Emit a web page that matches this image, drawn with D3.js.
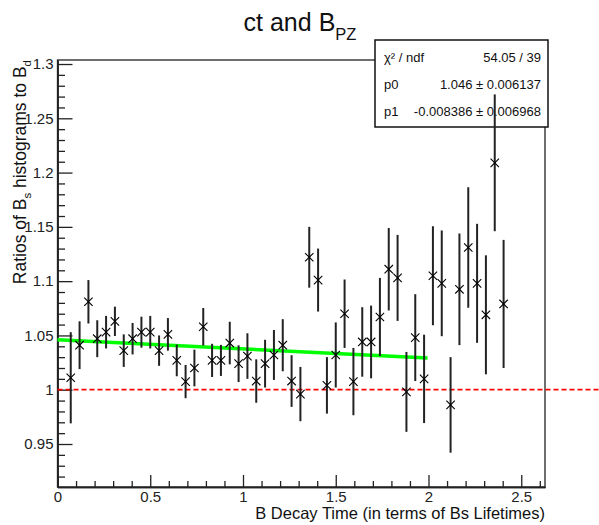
<!DOCTYPE html>
<html><head><meta charset="utf-8">
<script src="https://cdn.jsdelivr.net/npm/d3@7/dist/d3.min.js"></script>
<style>body{margin:0;background:#fff;} svg{display:block;font-family:"Liberation Sans",Arial,sans-serif;}</style>
</head><body>
<script>
// ---- data ----
const xValues = [0.0714,0.1190,0.1667,0.2143,0.2619,0.3095,0.3571,0.4048,0.4524,0.5000,
  0.5476,0.5952,0.6429,0.6905,0.7381,0.7857,0.8333,0.8810,0.9286,0.9762,
  1.0238,1.0714,1.1190,1.1667,1.2143,1.2619,1.3095,1.3571,1.4048,1.4524,
  1.5000,1.5476,1.5952,1.6429,1.6905,1.7381,1.7857,1.8333,1.8810,1.9286,
  1.9762,2.0238,2.0714,2.1190,2.1667,2.2143,2.2619,2.3095,2.3571,2.4048];
const ratios = [1.011,1.041,1.081,1.047,1.053,1.063,1.036,1.047,1.053,1.053,
  1.036,1.051,1.027,1.0075,1.020,1.058,1.027,1.027,1.043,1.024,
  1.031,1.008,1.024,1.032,1.041,1.008,0.996,1.122,1.101,1.004,
  1.032,1.070,1.0075,1.044,1.044,1.067,1.111,1.103,0.998,1.048,
  1.010,1.105,1.098,0.986,1.0925,1.131,1.098,1.069,1.209,1.079];
const errors = [0.042,0.022,0.020,0.017,0.015,0.0135,0.015,0.0145,0.0143,0.015,
  0.014,0.015,0.0146,0.0153,0.0169,0.0173,0.0153,0.0143,0.0196,0.0169,
  0.021,0.020,0.022,0.023,0.024,0.0238,0.025,0.028,0.029,0.026,
  0.030,0.0315,0.031,0.032,0.0335,0.036,0.038,0.0396,0.0368,0.040,
  0.0407,0.0456,0.0487,0.044,0.0514,0.0555,0.0548,0.0548,0.063,0.059];
const fitParams = {p0: 1.046, p1: -0.008386};
const fitRange = [0, 1.995];
const referenceLevel = 1.0;
const xMajorTicks = [0, 0.5, 1, 1.5, 2, 2.5];
const xMinorTicks = [0.1,0.2,0.3,0.4,0.6,0.7,0.8,0.9,1.1,1.2,1.3,1.4,1.6,1.7,1.8,1.9,2.1,2.2,2.3,2.4,2.6];
const yMajorTicks = [0.95, 1, 1.05, 1.1, 1.15, 1.2, 1.25, 1.3];
const yMinorTicks = [0.92,0.93,0.94,0.96,0.97,0.98,0.99,1.01,1.02,1.03,1.04,1.06,1.07,1.08,1.09,
  1.11,1.12,1.13,1.14,1.16,1.17,1.18,1.19,1.21,1.22,1.23,1.24,1.26,1.27,1.28,1.29];
const statsRows = [["χ² / ndf", "54.05 / 39"], ["p0", "1.046 ± 0.006137"], ["p1", "-0.008386 ± 0.006968"]];

// ---- layout ----
const W = 599, H = 525;
const M = {left: 57.5, right: 545, top: 60, bottom: 487};
const svg = d3.select("body").append("svg").attr("width", W).attr("height", H);

const x = d3.scaleLinear().domain([0, 2.628]).range([M.left, M.right]);
const y = d3.scaleLinear().domain([0.9104, 1.3037]).range([M.bottom, M.top]);

// frame
svg.append("rect").attr("x", M.left).attr("y", M.top)
  .attr("width", M.right - M.left).attr("height", M.bottom - M.top)
  .attr("fill", "none").attr("stroke", "#222").attr("stroke-width", 1.3);

// axes
const yAxis = d3.axisLeft(y).tickValues(yMajorTicks).tickSizeInner(-15).tickSizeOuter(0).tickPadding(4)
  .tickFormat(d => d3.format("")(d));
const gy = svg.append("g").attr("transform", `translate(${M.left},0)`).call(yAxis);
const yMinor = d3.axisLeft(y).tickValues(yMinorTicks).tickSizeInner(-7.5).tickSizeOuter(0).tickFormat("");
const gym = svg.append("g").attr("transform", `translate(${M.left},0)`).call(yMinor);

const xAxis = d3.axisBottom(x).tickValues(xMajorTicks).tickSizeInner(-12).tickSizeOuter(0).tickPadding(4)
  .tickFormat(d => d3.format("")(d));
const gx = svg.append("g").attr("transform", `translate(0,${M.bottom})`).call(xAxis);
const xMinor = d3.axisBottom(x).tickValues(xMinorTicks).tickSizeInner(-6).tickSizeOuter(0).tickFormat("");
const gxm = svg.append("g").attr("transform", `translate(0,${M.bottom})`).call(xMinor);

[gy, gym, gx, gxm].forEach(g => {
  g.selectAll("path.domain").attr("stroke", "#222").attr("stroke-width", 1.5);
  g.selectAll(".tick line").attr("stroke", "#222").attr("stroke-width", 1.3);
  g.selectAll("text").attr("fill", "#222").attr("font-size", 15).attr("font-family", "Liberation Sans, Arial, sans-serif");
});

// reference line at 1
svg.append("line").attr("x1", x(0)).attr("x2", W)
  .attr("y1", y(referenceLevel)).attr("y2", y(referenceLevel))
  .attr("stroke", "#ff0000").attr("stroke-width", 1.7).attr("stroke-dasharray", "5,3");

// fit line
const fitLine = d3.line().x(d => x(d)).y(d => y(fitParams.p0 + fitParams.p1 * d));
svg.append("path").datum(fitRange).attr("d", fitLine)
  .attr("fill", "none").attr("stroke", "#00ff00").attr("stroke-width", 3.5);

// stats box
const sb = svg.append("g");
sb.append("rect").attr("x", 375).attr("y", 40).attr("width", 173).attr("height", 87)
  .attr("fill", "#fff").attr("stroke", "#111").attr("stroke-width", 1.5);
statsRows.forEach((r, i) => {
  const ty = 61.5 + i * 27;
  sb.append("text").attr("x", 384).attr("y", ty).attr("font-size", 13).attr("fill", "#111").text(r[0]);
  sb.append("text").attr("x", 541).attr("y", ty).attr("font-size", 13).attr("fill", "#111")
    .attr("text-anchor", "end").text(r[1]);
});

// data: error bars and markers
const pts = xValues.map((xv, i) => ({x: xv, y: ratios[i], e: errors[i]}));
const g = svg.append("g");
g.selectAll("line.err").data(pts).join("line").attr("class", "err")
  .attr("x1", d => x(d.x)).attr("x2", d => x(d.x))
  .attr("y1", d => y(d.y - d.e)).attr("y2", d => y(d.y + d.e))
  .attr("stroke", "#222").attr("stroke-width", 2);
const s = 4.2;
g.selectAll("path.mk").data(pts).join("path").attr("class", "mk")
  .attr("d", d => {
    const cx = x(d.x), cy = y(d.y);
    return `M${cx - s},${cy - s}L${cx + s},${cy + s}M${cx - s},${cy + s}L${cx + s},${cy - s}`;
  })
  .attr("stroke", "#000").attr("stroke-width", 1.1).attr("fill", "none");

// title
const t = svg.append("text").attr("x", 300).attr("y", 31).attr("text-anchor", "middle")
  .attr("font-size", 25).attr("fill", "#111");
t.append("tspan").text("ct and B");
t.append("tspan").attr("font-size", 16.5).attr("dy", 9).text("PZ");

// x title
svg.append("text").attr("x", M.right).attr("y", 519).attr("text-anchor", "end")
  .attr("font-size", 16.5).attr("fill", "#111").text("B Decay Time (in terms of Bs Lifetimes)");

// y title
const yt = svg.append("text").attr("transform", `translate(26,60) rotate(-90)`)
  .attr("text-anchor", "end").attr("font-size", 17.5).attr("fill", "#111");
yt.append("tspan").text("Ratios of B");
yt.append("tspan").attr("font-size", 11.5).attr("dy", 5).text("s");
yt.append("tspan").attr("dy", -5).text(" histograms to B");
yt.append("tspan").attr("font-size", 11.5).attr("dy", 5).text("d");
</script>
</body></html>
